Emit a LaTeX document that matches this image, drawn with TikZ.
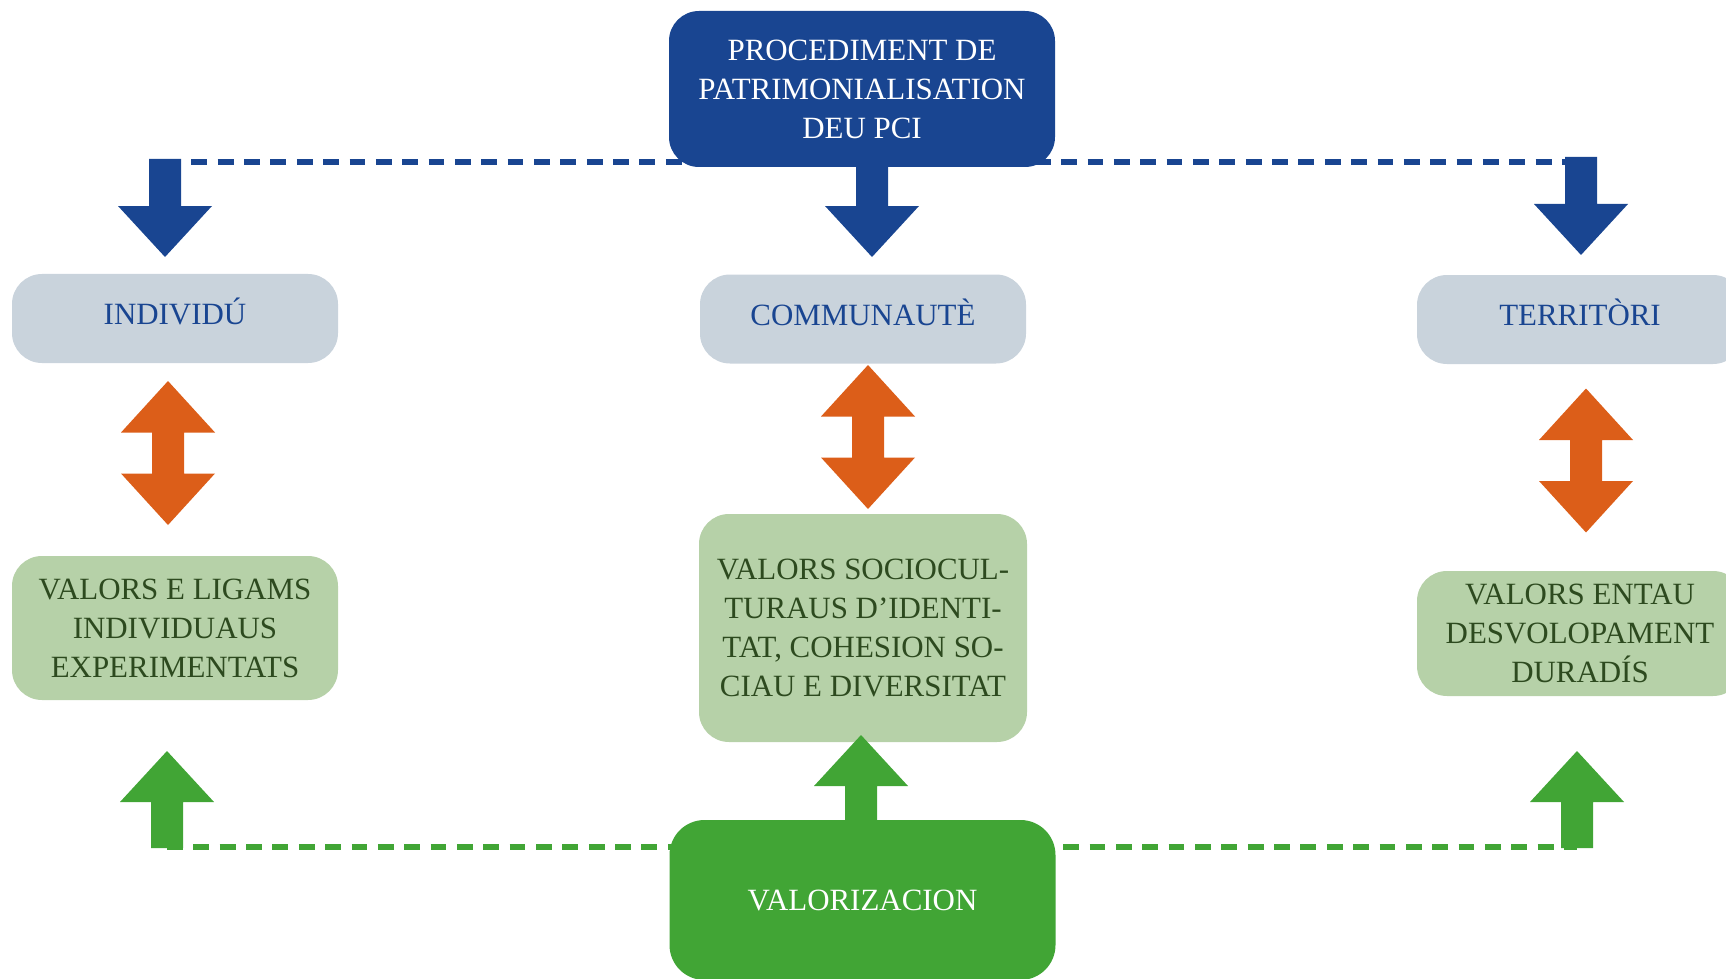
\documentclass[tikz,border=0pt]{standalone}
\usepackage{fontspec}
\setmainfont{Liberation Serif}
\definecolor{blau}{HTML}{194591}
\definecolor{grau}{HTML}{C9D3DC}
\definecolor{rost}{HTML}{DC5E19}
\definecolor{hellgruen}{HTML}{B6D1A8}
\definecolor{dunkelgruen}{HTML}{2D4A1F}
\definecolor{gruen}{HTML}{41A535}

\tikzset{
  % Blockpfeile, Ursprung an der Spitze
  pics/pfeilab/.style n args={2}{code={
    \fill[#1] (0,0) -- (-0.47,0.51) -- (-0.16,0.51) -- (-0.16,#2)
      -- (0.16,#2) -- (0.16,0.51) -- (0.47,0.51) -- cycle;}},
  pics/pfeilauf/.style n args={2}{code={
    \fill[#1] (0,0) -- (-0.47,-0.51) -- (-0.16,-0.51) -- (-0.16,-#2)
      -- (0.16,-#2) -- (0.16,-0.51) -- (0.47,-0.51) -- cycle;}},
  % Doppelpfeil, Ursprung in der Mitte
  pics/doppelpfeil/.style={code={
    \fill[rost] (0,0.72) -- (0.47,0.205) -- (0.16,0.205) -- (0.16,-0.205)
      -- (0.47,-0.205) -- (0,-0.72) -- (-0.47,-0.205) -- (-0.16,-0.205)
      -- (-0.16,0.205) -- (-0.47,0.205) -- cycle;}},
}

\begin{document}
\begin{tikzpicture}[
    every node/.style={font=\fontsize{8.8}{11.1}\selectfont, align=center},
    kasten/.style={rounded corners=0.3cm, minimum width=3.26cm, inner sep=0pt},
    haupt/.style={kasten, fill=blau, text=white, minimum width=3.86cm},
    ebene/.style={kasten, fill=grau, text=blau, minimum height=0.89cm,
                  text height=1.5ex, text depth=0.7ex},
    wert/.style={kasten, fill=hellgruen, text=dunkelgruen},
    strich/.style={line width=1.5pt, dash pattern=on 4.5pt off 3pt},
  ]
  \useasboundingbox (0,0) rectangle (17.26,-9.79);
  \clip (0,0) rectangle (17.26,-9.79);

  % Querlinien (liegen hinter den Kaesten)
  \coordinate (blauL) at (1.65,-1.62);
  \coordinate (blauR) at (15.81,-1.62);
  \coordinate (gruenL) at (1.67,-8.47);
  \coordinate (gruenR) at (15.77,-8.47);
  \draw[strich, blau] (blauL) -- (blauR);
  \draw[strich, gruen] (gruenL) -- (gruenR);

  % Kaesten
  \node[haupt, minimum height=1.56cm] (patr) at (8.62,-0.89)
    {PROCEDIMENT DE\\PATRIMONIALISATION\\DEU PCI};
  \node[ebene] (ind)  at (1.75,-3.185) {INDIVIDÚ};
  \node[ebene] (comm) at (8.63,-3.19)  {COMMUNAUTÈ};
  \node[ebene] (terr) at (15.80,-3.195) {TERRITÒRI};
  \node[wert, minimum height=1.44cm] (valind) at (1.75,-6.28)
    {VALORS E LIGAMS\\INDIVIDUAUS\\EXPERIMENTATS};
  \node[wert, minimum height=2.28cm, minimum width=3.28cm] (valcomm) at (8.63,-6.28)
    {VALORS SOCIOCUL-\\TURAUS D’IDENTI-\\TAT, COHESION SO-\\CIAU E DIVERSITAT};
  \node[wert, minimum height=1.25cm] (valterr) at (15.80,-6.335)
    {VALORS ENTAU\\DESVOLOPAMENT\\DURADÍS};
  \node[haupt, fill=gruen, minimum height=1.6cm, rounded corners=0.35cm] (valor)
    at (8.625,-9.00) {VALORIZACION};

  % Pfeile nach unten
  \pic at (1.65,-2.57)  {pfeilab={blau}{0.98}};
  \pic at (8.72,-2.57)  {pfeilab={blau}{1.0}};
  \pic at (15.81,-2.55) {pfeilab={blau}{0.98}};

  % Wechselwirkung
  \pic at (1.68,-4.53)  {doppelpfeil};
  \pic at (8.68,-4.37)  {doppelpfeil};
  \pic at (15.86,-4.605) {doppelpfeil};

  % Pfeile nach oben
  \pic at (1.67,-7.51)  {pfeilauf={gruen}{0.97}};
  \pic at (8.61,-7.35)  {pfeilauf={gruen}{0.9}};
  \pic at (15.77,-7.51) {pfeilauf={gruen}{0.97}};
\end{tikzpicture}
\end{document}
